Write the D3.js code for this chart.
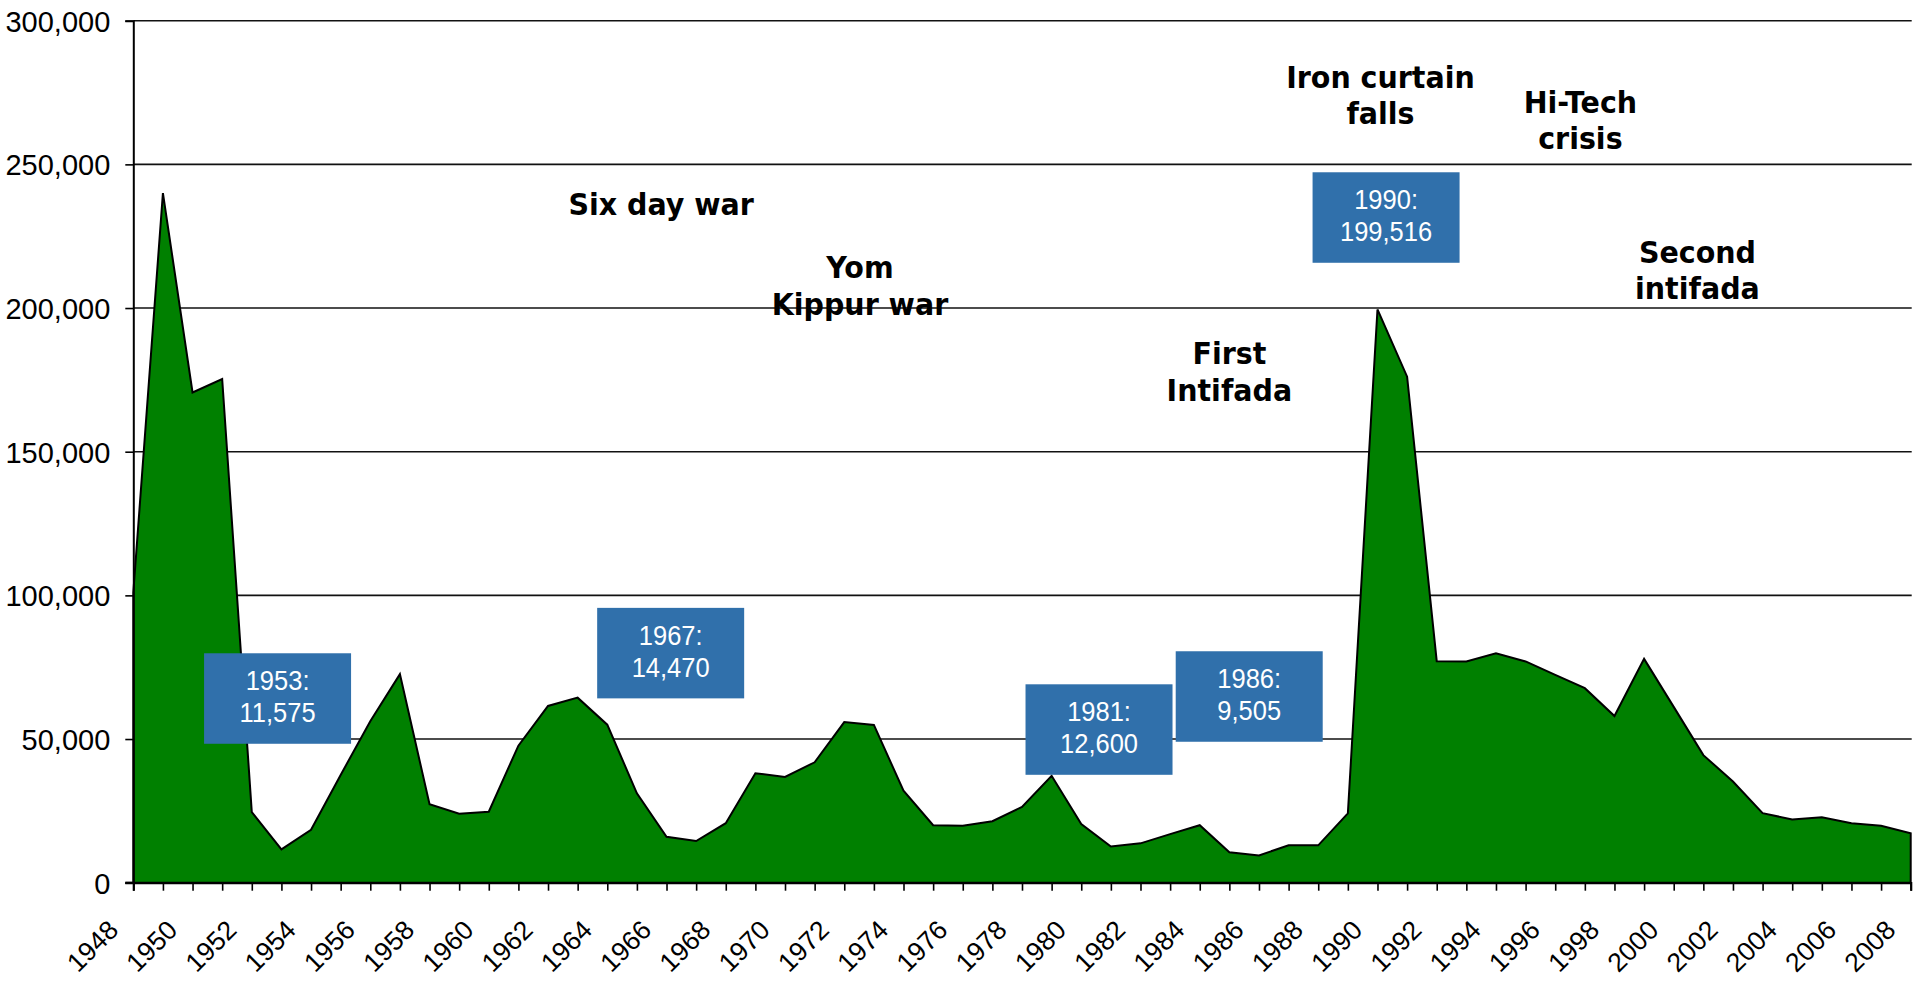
<!DOCTYPE html>
<html>
<head>
<meta charset="utf-8">
<script src="https://cdn.jsdelivr.net/npm/d3@7"></script>
<style>
  body { margin: 0; background: #ffffff; }
  svg { display: block; }
</style>
</head>
<body>
<svg id="chart" width="1915" height="981"></svg>
<script>
// ---------------- DATA ----------------
const years = [1948,1949,1950,1951,1952,1953,1954,1955,1956,1957,1958,1959,1960,1961,1962,1963,1964,1965,1966,1967,
  1968,1969,1970,1971,1972,1973,1974,1975,1976,1977,1978,1979,1980,1981,1982,1983,1984,1985,1986,1987,
  1988,1989,1990,1991,1992,1993,1994,1995,1996,1997,1998,1999,2000,2001,2002,2003,2004,2005,2006,2007,2008];

const immigrants = [101000,240000,170600,175300,24600,11600,18400,37500,56200,72600,27300,24000,24700,47700,61500,64400,55000,31100,16000,14500,
  20700,38100,36800,41900,55900,54900,32000,20000,19800,21400,26400,37200,20400,12600,13700,16900,20000,10600,9500,13000,
  13000,24100,199500,176100,77100,77000,79800,77000,72300,67700,58000,77900,61200,44400,35200,24200,22000,22800,20700,19800,17200];

const yTickValues = [0,50000,100000,150000,200000,250000,300000];
const xTickLabels = ["1948","1950","1952","1954","1956","1958","1960","1962","1964","1966","1968","1970","1972","1974","1976",
  "1978","1980","1982","1984","1986","1988","1990","1992","1994","1996","1998","2000","2002","2004","2006","2008"];

// Event annotations (bold black text)
const eventLines  = [["Six day war"],["Yom","Kippur war"],["First","Intifada"],["Iron curtain","falls"],["Hi-Tech","crisis"],["Second","intifada"]];
const eventYears  = [1965.82, 1972.53, 1985.0, 1990.1, 1996.85, 2000.8];
const eventValues = [232400, 210400, 180500, 276600, 267900, 215700];

// Callout boxes (blue, white text)
const calloutLines  = [["1953:","11,575"],["1967:","14,470"],["1981:","12,600"],["1986:","9,505"],["1990:","199,516"]];
const calloutYears  = [1952.87, 1966.14, 1980.6, 1985.67, 1990.29];
const calloutValues = [64100, 79900, 53300, 64800, 231500];

// ---------------- LAYOUT ----------------
const svg = d3.select("#chart");
const plotLeft = 133.3, plotRight = 1910.7, plotTop = 20.7, plotBottom = 882.7;

const x = d3.scaleLinear().domain([1948, 2008]).range([plotLeft, plotRight]);
const y = d3.scaleLinear().domain([0, 300000]).range([plotBottom, plotTop]);

// gridlines
svg.append("g").selectAll("line").data(yTickValues.filter(d => d > 0)).join("line")
  .attr("x1", plotLeft).attr("x2", plotRight + 1)
  .attr("y1", d => y(d)).attr("y2", d => y(d))
  .attr("stroke", "#111").attr("stroke-width", 1.6);

// area
const data = years.map((yr, i) => ({year: yr, value: immigrants[i]}));
const area = d3.area().x(d => x(d.year)).y0(y(0)).y1(d => y(d.value));
svg.append("path").datum(data)
  .attr("d", area)
  .attr("fill", "#008000")
  .attr("stroke", "#000")
  .attr("stroke-width", 2)
  .attr("stroke-linejoin", "miter");

// y axis
const yAxis = d3.axisLeft(y).tickValues(yTickValues).tickSize(8).tickPadding(15).tickFormat(d3.format(","));
const gy = svg.append("g").attr("transform", `translate(${plotLeft},0)`).call(yAxis);
gy.select(".domain").attr("stroke", "#000").attr("stroke-width", 2);
gy.selectAll(".tick line").attr("stroke", "#000").attr("stroke-width", 1.6);
gy.selectAll(".tick text")
  .attr("font-family", "'Liberation Sans', Arial, sans-serif")
  .attr("font-size", 29).attr("fill", "#000")
  .attr("x", -23).attr("dy", "0.36em");

// x axis
const xAxis = d3.axisBottom(x).tickValues(years).tickSize(8)
  .tickFormat(d => xTickLabels.includes(String(d)) ? String(d) : "");
const gx = svg.append("g").attr("transform", `translate(0,${plotBottom})`).call(xAxis);
gx.select(".domain").attr("stroke", "#000").attr("stroke-width", 2.2);
gx.selectAll(".tick line").attr("stroke", "#000").attr("stroke-width", 1.6);
gx.selectAll(".tick text")
  .attr("font-family", "'Liberation Sans', Arial, sans-serif")
  .attr("font-size", 26.5).attr("fill", "#000")
  .attr("x", 0).attr("y", 0).attr("dy", 0)
  .attr("text-anchor", "end")
  .attr("transform", "translate(-14,49) rotate(-45)");

// short extension of the x axis line to the left (tick join)
svg.append("line").attr("x1", plotLeft - 8).attr("x2", plotLeft).attr("y1", plotBottom).attr("y2", plotBottom)
  .attr("stroke", "#000").attr("stroke-width", 2.2);

// event annotations
const ev = svg.append("g").selectAll("g").data(eventLines).join("g")
  .attr("transform", (d, i) => `translate(${x(eventYears[i])},${y(eventValues[i])}) scale(0.95,1.03)`);
ev.selectAll("text").data(d => d).join("text")
  .attr("x", 0).attr("y", (d, j) => j * 35.5)
  .attr("text-anchor", "middle")
  .attr("font-family", "'DejaVu Sans', Verdana, sans-serif")
  .attr("font-weight", "bold")
  .attr("font-size", 30)
  .attr("fill", "#000")
  .text(d => d);

// callout boxes
const boxW = 147, boxH = 90.5;
const cb = svg.append("g").selectAll("g").data(calloutLines).join("g")
  .attr("transform", (d, i) => `translate(${x(calloutYears[i])},${y(calloutValues[i])})`);
cb.append("rect")
  .attr("x", -boxW / 2).attr("y", -boxH / 2)
  .attr("width", boxW).attr("height", boxH)
  .attr("fill", "#3070AB");
cb.selectAll("text").data(d => d).join("text")
  .attr("transform", (d, j) => `translate(0,${-8.5 + j * 32.3}) scale(1,1.06)`)
  .attr("text-anchor", "middle")
  .attr("font-family", "'Liberation Sans', Arial, sans-serif")
  .attr("font-size", 25.5)
  .attr("fill", "#ffffff")
  .text(d => d);
</script>
</body>
</html>
